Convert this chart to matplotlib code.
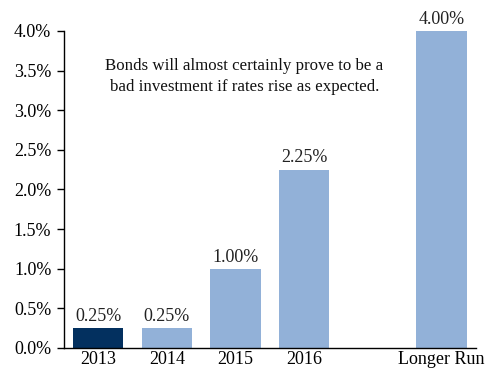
import matplotlib
matplotlib.use("Agg")
import matplotlib.pyplot as plt
from matplotlib.ticker import FuncFormatter

categories = ["2013", "2014", "2015", "2016", "Longer Run"]
positions = [0, 1, 2, 3, 5]
rates = [0.25, 0.25, 1.00, 2.25, 4.00]
bar_colors = ["#03305f", "#92b1d8", "#92b1d8", "#92b1d8", "#92b1d8"]
note = "Bonds will almost certainly prove to be a\nbad investment if rates rise as expected."

plt.rcParams["font.family"] = ["Liberation Serif", "DejaVu Serif"]

fig = plt.figure(figsize=(4.87, 3.70), dpi=100)
ax = fig.add_axes([0.131, 0.0595, 0.846, 0.857])

ax.bar(positions, rates, width=0.73, color=bar_colors)
for x, v in zip(positions, rates):
    ax.text(x, v + 0.04, f"{v:.2f}%", ha="center", va="bottom", fontsize=13, color="#222222")

ax.set_xlim(-0.5, 5.5)
ax.set_ylim(0, 4.0)
ax.set_yticks([i * 0.5 for i in range(9)])
ax.yaxis.set_major_formatter(FuncFormatter(lambda v, _: f"{v:.1f}%"))
ax.set_xticks(positions)
ax.set_xticklabels(categories)
ax.tick_params(axis="x", length=0, labelsize=13, pad=2)
ax.tick_params(axis="y", length=5, width=1, direction="out", labelsize=13, pad=4)

for side in ("top", "right"):
    ax.spines[side].set_visible(False)
for side in ("left", "bottom"):
    ax.spines[side].set_linewidth(1)

ax.text(2.13, 3.42, note, ha="center", va="center", fontsize=12.2, linespacing=1.42, color="#111111")

fig.savefig("out.png", dpi=100)
